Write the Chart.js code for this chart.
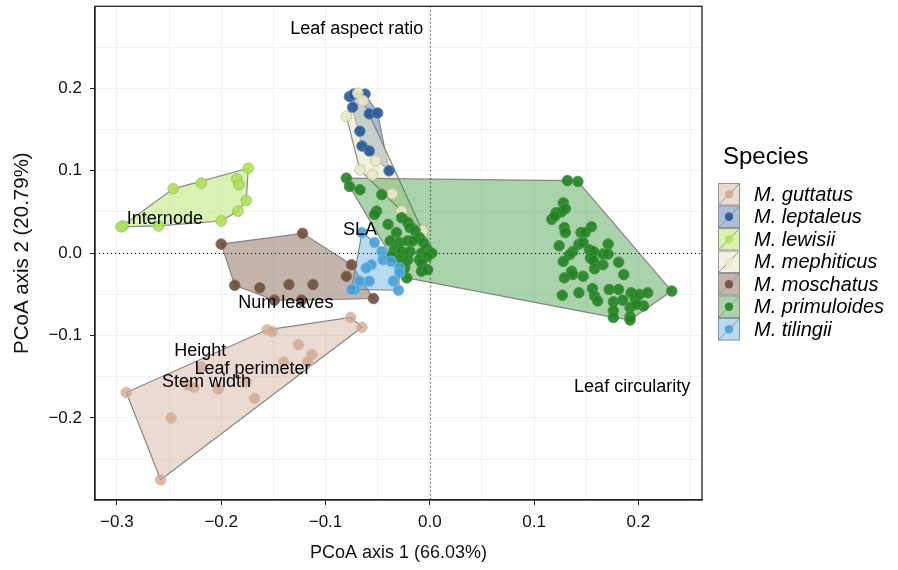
<!DOCTYPE html>
<html>
<head>
<meta charset="utf-8">
<script src="https://cdn.jsdelivr.net/npm/chart.js@4.4.0/dist/chart.umd.min.js"></script>
<style>
  html, body { margin: 0; padding: 0; background: #fff; }
  #wrap { width: 898px; height: 570px; }
</style>
</head>
<body>
<div id="wrap"><canvas id="chart" width="898" height="570"></canvas></div>
<script>
// PCoA scores per species, [axis1, axis2]
const species = ['M. guttatus', 'M. leptaleus', 'M. lewisii', 'M. mephiticus', 'M. moschatus', 'M. primuloides', 'M. tilingii'];

const guttatus = [
  [-0.291, -0.169], [-0.258, -0.275], [-0.248, -0.200], [-0.156, -0.093], [-0.151, -0.095],
  [-0.076, -0.078], [-0.065, -0.090], [-0.126, -0.111], [-0.113, -0.123], [-0.140, -0.132],
  [-0.117, -0.132], [-0.219, -0.138], [-0.232, -0.160], [-0.226, -0.163], [-0.203, -0.165],
  [-0.176, -0.156], [-0.168, -0.176]
];
const leptaleus = [
  [-0.077, 0.190], [-0.073, 0.193], [-0.062, 0.193], [-0.074, 0.177], [-0.058, 0.169],
  [-0.050, 0.170], [-0.067, 0.148], [-0.065, 0.130], [-0.058, 0.124], [-0.039, 0.100]
];
const lewisii = [
  [-0.294, 0.033], [-0.296, 0.032], [-0.260, 0.033], [-0.246, 0.078], [-0.219, 0.085],
  [-0.185, 0.090], [-0.183, 0.083], [-0.174, 0.103], [-0.176, 0.064], [-0.184, 0.051],
  [-0.200, 0.039]
];
const mephiticus = [
  [-0.069, 0.194], [-0.080, 0.166], [-0.064, 0.185], [-0.052, 0.112], [-0.067, 0.101],
  [-0.055, 0.095], [-0.036, 0.072], [-0.027, 0.051], [-0.007, 0.027]
];
const moschatus = [
  [-0.200, 0.011], [-0.122, 0.024], [-0.187, -0.039], [-0.163, -0.042], [-0.135, -0.038],
  [-0.112, -0.038], [-0.149, -0.057], [-0.123, -0.057], [-0.075, -0.014], [-0.080, -0.028],
  [-0.054, -0.055]
];
const primuloides = [
  [-0.080, 0.091], [-0.077, 0.081], [-0.067, 0.077], [-0.046, 0.071], [-0.051, 0.051],
  [-0.053, 0.047], [-0.040, 0.035], [-0.032, 0.025], [-0.027, 0.043], [-0.021, 0.037],
  [-0.019, 0.031], [-0.014, 0.027], [-0.010, 0.019], [-0.038, 0.015], [-0.029, 0.013],
  [-0.021, 0.015], [-0.016, 0.015], [-0.006, 0.013], [-0.003, 0.006], [0.002, 0.000],
  [-0.034, 0.004], [-0.027, 0.002], [-0.019, 0.002], [-0.008, 0.000], [-0.037, -0.004],
  [-0.029, -0.008], [-0.021, -0.008], [-0.010, -0.008], [-0.002, -0.004], [-0.008, -0.012],
  [-0.024, -0.018], [-0.008, -0.022], [-0.002, -0.020], [-0.022, -0.030],
  [0.132, 0.088], [0.142, 0.087], [0.128, 0.061], [0.121, 0.049], [0.126, 0.050],
  [0.130, 0.054], [0.117, 0.041], [0.120, 0.045], [0.129, 0.031], [0.130, 0.025],
  [0.145, 0.025], [0.149, 0.025], [0.155, 0.032], [0.124, 0.009], [0.143, 0.011],
  [0.147, 0.013], [0.137, 0.002], [0.134, -0.002], [0.153, 0.004], [0.157, 0.002],
  [0.171, 0.011], [0.166, -0.001], [0.171, -0.001], [0.128, -0.010], [0.154, -0.006],
  [0.157, -0.009], [0.181, -0.011], [0.166, -0.014], [0.158, -0.019], [0.136, -0.022],
  [0.137, -0.026], [0.129, -0.030], [0.147, -0.028], [0.186, -0.026], [0.127, -0.051],
  [0.143, -0.048], [0.156, -0.043], [0.158, -0.052], [0.161, -0.058], [0.172, -0.044],
  [0.181, -0.044], [0.176, -0.059], [0.185, -0.057], [0.193, -0.048], [0.176, -0.070],
  [0.176, -0.078], [0.192, -0.066], [0.192, -0.077], [0.197, -0.056], [0.232, -0.046],
  [0.201, -0.050], [0.209, -0.048], [0.205, -0.064], [0.198, -0.062], [0.192, -0.081]
];
const tilingii = [
  [-0.065, 0.025], [-0.053, 0.013], [-0.046, 0.002], [-0.045, -0.008], [-0.037, -0.010],
  [-0.056, -0.014], [-0.061, -0.018], [-0.029, -0.018], [-0.029, -0.024], [-0.067, -0.034],
  [-0.058, -0.034], [-0.072, -0.044], [-0.075, -0.044], [-0.035, -0.034], [-0.030, -0.045]
];

// trait loading labels
const traitNames = ['Leaf aspect ratio', 'Internode', 'SLA', 'Num leaves', 'Height', 'Leaf perimeter', 'Stem width', 'Leaf circularity'];
const traitX = [-0.070, -0.254, -0.067, -0.138, -0.220, -0.170, -0.214, 0.194];
const traitY = [0.272, 0.041, 0.028, -0.061, -0.119, -0.141, -0.156, -0.162];

const pointColors = ['rgba(205,165,140,0.75)', 'rgba(35,85,150,0.9)', 'rgba(175,225,95,0.9)', 'rgba(236,234,200,0.9)', 'rgba(110,78,60,0.9)', 'rgba(34,130,34,0.9)', 'rgba(72,160,215,0.9)'];
const pointBorders = ['rgba(215,185,165,0.9)', 'rgba(90,130,180,0.9)', 'rgba(150,205,70,0.9)', 'rgba(200,196,155,0.9)', 'rgba(140,110,95,0.9)', 'rgba(70,150,70,0.9)', 'rgba(120,190,230,0.9)'];
const hullFills = ['rgba(210,174,152,0.45)', 'rgba(42,93,154,0.4)', 'rgba(181,227,106,0.5)', 'rgba(230,228,190,0.5)', 'rgba(122,90,72,0.45)', 'rgba(34,139,34,0.38)', 'rgba(76,166,219,0.4)'];

const groups = [guttatus, leptaleus, lewisii, mephiticus, moschatus, primuloides, tilingii];
const FONT = '"Liberation Sans", Arial, Helvetica, sans-serif';

function convexHull(pts) {
  const p = pts.slice().sort((a, b) => a[0] - b[0] || a[1] - b[1]);
  const cross = (o, a, b) => (a[0] - o[0]) * (b[1] - o[1]) - (a[1] - o[1]) * (b[0] - o[0]);
  const lower = [];
  for (const q of p) {
    while (lower.length >= 2 && cross(lower[lower.length - 2], lower[lower.length - 1], q) <= 0) lower.pop();
    lower.push(q);
  }
  const upper = [];
  for (let i = p.length - 1; i >= 0; i--) {
    const q = p[i];
    while (upper.length >= 2 && cross(upper[upper.length - 2], upper[upper.length - 1], q) <= 0) upper.pop();
    upper.push(q);
  }
  upper.pop(); lower.pop();
  return lower.concat(upper);
}

const fmtTick = v => {
  const r = Math.round(v * 20);
  if (r % 2 !== 0) return '';
  return (r / 20).toFixed(1).replace('-', '\u2212');
};
const isMajor = v => Math.round(v * 20) % 2 === 0;

const hullPlugin = {
  id: 'hulls',
  beforeDatasetsDraw(chart) {
    const { ctx, chartArea, scales: { x, y } } = chart;
    ctx.save();
    ctx.beginPath();
    ctx.rect(chartArea.left, chartArea.top, chartArea.width, chartArea.height);
    ctx.clip();
    groups.forEach((g, i) => {
      const h = convexHull(g);
      ctx.beginPath();
      h.forEach((p, k) => {
        const px = x.getPixelForValue(p[0]), py = y.getPixelForValue(p[1]);
        if (k === 0) ctx.moveTo(px, py); else ctx.lineTo(px, py);
      });
      ctx.closePath();
      ctx.fillStyle = hullFills[i];
      ctx.fill();
      ctx.strokeStyle = 'rgba(125,125,125,0.9)';
      ctx.lineWidth = 1.2;
      ctx.stroke();
    });
    // zero reference lines
    ctx.strokeStyle = '#111';
    ctx.lineWidth = 1;
    ctx.setLineDash([1, 3]);
    const x0 = Math.round(x.getPixelForValue(0)) + 0.5;
    const y0 = Math.round(y.getPixelForValue(0)) + 0.5;
    ctx.beginPath();
    ctx.moveTo(x0, chartArea.top); ctx.lineTo(x0, chartArea.bottom);
    ctx.moveTo(chartArea.left, y0); ctx.lineTo(chartArea.right, y0);
    ctx.stroke();
    ctx.restore();
  },
  afterDatasetsDraw(chart) {
    const { ctx, scales: { x, y } } = chart;
    ctx.save();
    ctx.fillStyle = '#000';
    ctx.font = '18px ' + FONT;
    ctx.textAlign = 'center';
    ctx.textBaseline = 'middle';
    traitNames.forEach((t, i) => {
      ctx.fillText(t, x.getPixelForValue(traitX[i]), y.getPixelForValue(traitY[i]));
    });
    ctx.restore();
  },
  afterDraw(chart) {
    const { ctx, chartArea } = chart;
    ctx.save();
    ctx.strokeStyle = '#222';
    ctx.lineWidth = 1.3;
    ctx.strokeRect(chartArea.left, chartArea.top, chartArea.width, chartArea.height);

    // legend
    const lx = 718, ly = 183, bw = 22, rh = 22.5;
    ctx.fillStyle = '#000';
    ctx.font = '24px ' + FONT;
    ctx.textAlign = 'left';
    ctx.textBaseline = 'alphabetic';
    ctx.fillText('Species', 723, 164);
    species.forEach((s, i) => {
      const top = ly + i * rh;
      ctx.fillStyle = '#fff';
      ctx.fillRect(lx, top, bw, rh);
      ctx.fillStyle = hullFills[i];
      ctx.fillRect(lx, top, bw, rh);
      ctx.strokeStyle = 'rgba(140,140,140,0.9)';
      ctx.lineWidth = 1;
      ctx.strokeRect(lx + 0.5, top + 0.5, bw - 1, rh - 1);
      ctx.beginPath();
      ctx.moveTo(lx + 1, top + rh - 1);
      ctx.lineTo(lx + bw - 1, top + 1);
      ctx.stroke();
      ctx.beginPath();
      ctx.arc(lx + bw / 2, top + rh / 2, 4.2, 0, Math.PI * 2);
      ctx.fillStyle = pointColors[i];
      ctx.fill();
      ctx.fillStyle = '#000';
      ctx.font = 'italic 20px ' + FONT;
      ctx.textBaseline = 'middle';
      ctx.fillText(s, 754, top + rh / 2 + 1);
    });
    ctx.restore();
  }
};

const datasets = groups.map((g, i) => ({
  label: species[i],
  data: g.map(p => ({ x: p[0], y: p[1] })),
  backgroundColor: pointColors[i],
  borderColor: pointBorders[i],
  borderWidth: 1,
  pointRadius: 5.3,
  order: 7 - i
}));

new Chart(document.getElementById('chart'), {
  type: 'scatter',
  data: { datasets },
  options: {
    responsive: false,
    animation: false,
    devicePixelRatio: 1,
    layout: { padding: { top: 5, right: 196, left: 0, bottom: 0 } },
    plugins: { legend: { display: false }, tooltip: { enabled: false } },
    scales: {
      x: {
        type: 'linear',
        min: -0.321,
        max: 0.261,
        afterFit(scale) {
          scale.height = 70;
          scale.paddingLeft = 0;
          scale.paddingRight = 0;
        },
        ticks: {
          stepSize: 0.05,
          includeBounds: false,
          autoSkip: false,
          maxRotation: 0,
          padding: 7,
          color: '#111',
          font: { family: FONT, size: 17 },
          callback: v => fmtTick(v)
        },
        grid: {
          color: 'rgba(205,220,220,0.35)',
          tickLength: 5,
          tickColor: c => isMajor(c.tick.value) ? '#222' : 'rgba(0,0,0,0)'
        },
        border: { display: true, color: '#222', width: 1.3 },
        title: {
          display: true,
          text: 'PCoA axis 1 (66.03%)',
          color: '#111',
          font: { family: FONT, size: 18 },
          padding: { top: 0, bottom: 6 }
        }
      },
      y: {
        type: 'linear',
        min: -0.2995,
        max: 0.2995,
        afterFit(scale) {
          scale.width = 95;
          scale.paddingTop = 0;
          scale.paddingBottom = 0;
        },
        ticks: {
          stepSize: 0.05,
          includeBounds: false,
          autoSkip: false,
          padding: 8,
          color: '#111',
          font: { family: FONT, size: 17 },
          callback: v => fmtTick(v)
        },
        grid: {
          color: 'rgba(205,220,220,0.35)',
          tickLength: 5,
          tickColor: c => isMajor(c.tick.value) ? '#222' : 'rgba(0,0,0,0)'
        },
        border: { display: true, color: '#222', width: 1.3 },
        title: {
          display: true,
          text: 'PCoA axis 2 (20.79%)',
          color: '#111',
          font: { family: FONT, size: 20.5 },
          padding: { top: 10, bottom: 0 }
        }
      }
    }
  },
  plugins: [hullPlugin]
});
</script>
</body>
</html>
